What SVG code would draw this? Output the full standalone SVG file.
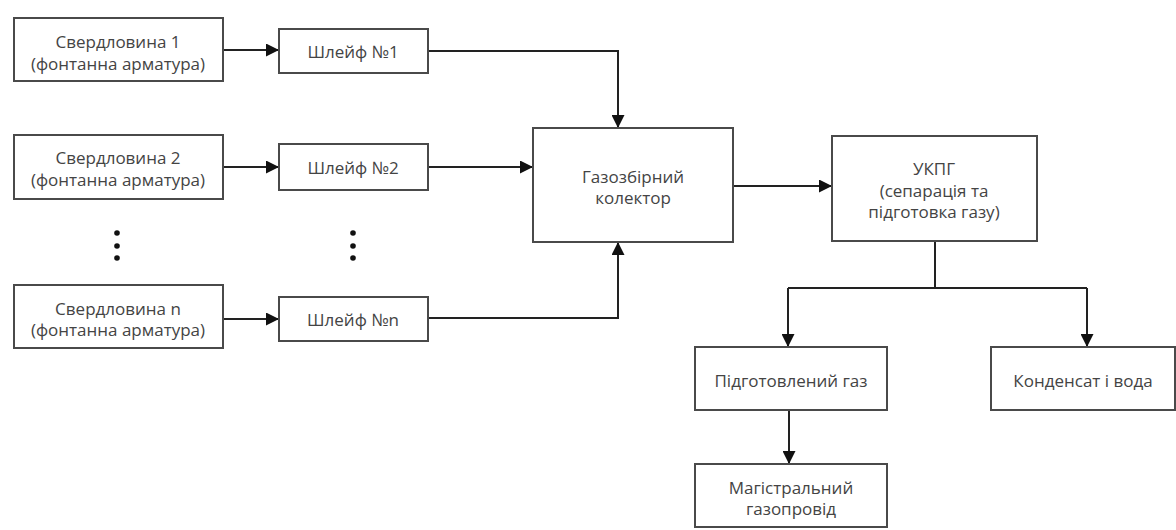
<svg xmlns="http://www.w3.org/2000/svg" width="1176" height="530" viewBox="0 0 1176 530">
<style>
.box{fill:#fff;stroke:#4a4a4a;stroke-width:2}
.t{font-family:"Open Sans","Liberation Sans",sans-serif;font-size:17px;fill:#444;text-anchor:middle;dominant-baseline:central}
.c{fill:none;stroke:#222;stroke-width:2}
</style>
<defs>
<marker id="a" viewBox="0 0 12 12" refX="12" refY="6" markerWidth="13" markerHeight="13" orient="auto" markerUnits="userSpaceOnUse">
<path d="M0,0 L12,6 L0,12 z" fill="#111"/>
</marker>
</defs>
<rect width="1176" height="530" fill="#fff"/>
<g id="connectors">
<path class="c" d="M223,50 H279" marker-end="url(#a)"/>
<path class="c" d="M223,167 H279" marker-end="url(#a)"/>
<path class="c" d="M223,319 H279" marker-end="url(#a)"/>
<path class="c" d="M428,51 H618 V128" marker-end="url(#a)"/>
<path class="c" d="M428,167 H533" marker-end="url(#a)"/>
<path class="c" d="M428,318 H618 V242" marker-end="url(#a)"/>
<path class="c" d="M733,186 H832" marker-end="url(#a)"/>
<path class="c" d="M935,241 V288"/>
<path class="c" d="M788,288 H1087"/>
<path class="c" d="M788,288 V347" marker-end="url(#a)"/>
<path class="c" d="M1087,288 V347" marker-end="url(#a)"/>
<path class="c" d="M789,410 V464" marker-end="url(#a)"/>
</g>
<g id="dots" fill="#111">
<circle cx="117" cy="233" r="2.8"/><circle cx="117" cy="246" r="2.8"/><circle cx="117" cy="258" r="2.8"/>
<circle cx="353" cy="233" r="2.8"/><circle cx="353" cy="246" r="2.8"/><circle cx="353" cy="258" r="2.8"/>
</g>
<g id="well1"><rect class="box" x="14" y="18" width="209" height="63"/><text class="t" x="118" y="41">Свердловина 1</text><text class="t" x="118" y="63">(фонтанна арматура)</text></g>
<g id="well2"><rect class="box" x="14" y="135" width="209" height="64"/><text class="t" x="118" y="157">Свердловина 2</text><text class="t" x="118" y="179">(фонтанна арматура)</text></g>
<g id="welln"><rect class="box" x="14" y="285" width="209" height="63"/><text class="t" x="118" y="308">Свердловина n</text><text class="t" x="118" y="329">(фонтанна арматура)</text></g>
<g id="loop1"><rect class="box" x="279" y="29" width="149" height="44"/><text class="t" x="353" y="51">Шлейф №1</text></g>
<g id="loop2"><rect class="box" x="279" y="144" width="149" height="46"/><text class="t" x="353" y="167">Шлейф №2</text></g>
<g id="loopn"><rect class="box" x="279" y="297" width="149" height="44"/><text class="t" x="353" y="319">Шлейф №n</text></g>
<g id="collector"><rect class="box" x="533" y="128" width="200" height="114"/><text class="t" x="633" y="176">Газозбірний</text><text class="t" x="633" y="197">колектор</text></g>
<g id="ukpg"><rect class="box" x="832" y="136" width="205" height="105"/><text class="t" x="934" y="168">УКПГ</text><text class="t" x="934" y="190">(сепарація та</text><text class="t" x="934" y="211">підготовка газу)</text></g>
<g id="prepared"><rect class="box" x="695" y="347" width="192" height="63"/><text class="t" x="791" y="380">Підготовлений газ</text></g>
<g id="condensate"><rect class="box" x="991" y="347" width="184" height="63"/><text class="t" x="1083" y="380">Конденсат і вода</text></g>
<g id="pipeline"><rect class="box" x="695" y="464" width="192" height="63"/><text class="t" x="791" y="487">Магістральний</text><text class="t" x="791" y="508">газопровід</text></g>
</svg>
